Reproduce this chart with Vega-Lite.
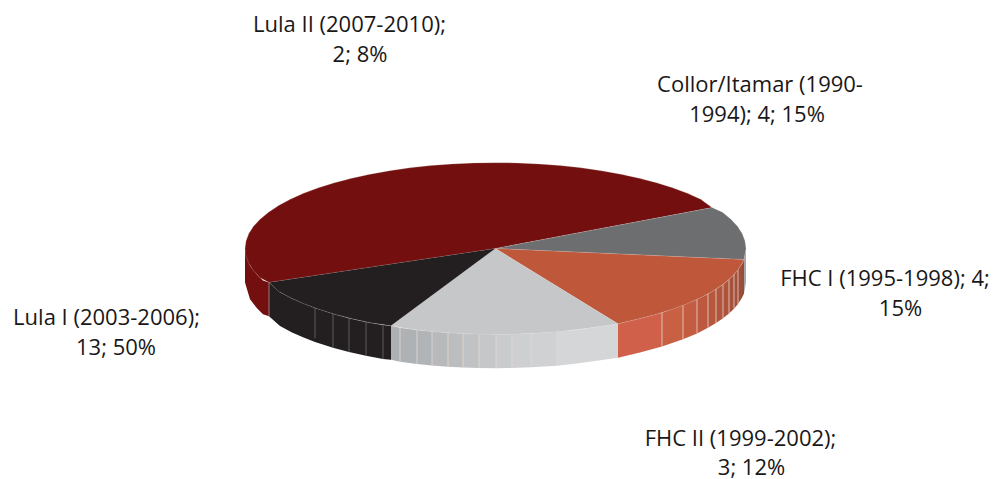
{"$schema":"https://vega.github.io/schema/vega-lite/v6.json","width":993,"height":479,"padding":0,"autosize":{"type":"fit","contains":"padding"},"background":"white","view":{"stroke":null},
"datasets":{
"faces":[
{"s":"Lula I","n":0,"x":0,"y":0},{"s":"Lula I","n":1,"x":-226.5,"y":-34},{"s":"Lula I","n":2,"x":-235.4,"y":-29.4},{"s":"Lula I","n":3,"x":-242,"y":-22.3},{"s":"Lula I","n":4,"x":-246.7,"y":-14.9},{"s":"Lula I","n":5,"x":-249.5,"y":-7.5},{"s":"Lula I","n":6,"x":-250.5,"y":0},{"s":"Lula I","n":7,"x":-249.5,"y":7.5},{"s":"Lula I","n":8,"x":-246.7,"y":14.9},{"s":"Lula I","n":9,"x":-242,"y":22.3},{"s":"Lula I","n":10,"x":-235.4,"y":29.4},{"s":"Lula I","n":11,"x":-227,"y":36.3},{"s":"Lula I","n":12,"x":-216.9,"y":43},{"s":"Lula I","n":13,"x":-205.2,"y":49.3},{"s":"Lula I","n":14,"x":-191.9,"y":55.3},{"s":"Lula I","n":15,"x":-177.1,"y":60.8},{"s":"Lula I","n":16,"x":-161,"y":65.9},{"s":"Lula I","n":17,"x":-143.7,"y":70.4},{"s":"Lula I","n":18,"x":-125.3,"y":74.5},{"s":"Lula I","n":19,"x":-105.9,"y":77.9},{"s":"Lula I","n":20,"x":-85.7,"y":80.8},{"s":"Lula I","n":21,"x":-64.8,"y":83.1},{"s":"Lula I","n":22,"x":-43.5,"y":84.7},{"s":"Lula I","n":23,"x":-21.8,"y":85.7},{"s":"Lula I","n":24,"x":0,"y":86},{"s":"Lula I","n":25,"x":21.8,"y":85.7},{"s":"Lula I","n":26,"x":43.5,"y":84.7},{"s":"Lula I","n":27,"x":64.8,"y":83.1},{"s":"Lula I","n":28,"x":85.7,"y":80.8},{"s":"Lula I","n":29,"x":105.9,"y":77.9},{"s":"Lula I","n":30,"x":125.3,"y":74.5},{"s":"Lula I","n":31,"x":143.7,"y":70.4},{"s":"Lula I","n":32,"x":161,"y":65.9},{"s":"Lula I","n":33,"x":177.1,"y":60.8},{"s":"Lula I","n":34,"x":191.9,"y":55.3},{"s":"Lula I","n":35,"x":205.2,"y":49.3},{"s":"Lula I","n":36,"x":216.5,"y":41},
{"s":"Lula II","n":0,"x":0,"y":0},{"s":"Lula II","n":1,"x":216.5,"y":41},{"s":"Lula II","n":2,"x":227,"y":36.3},{"s":"Lula II","n":3,"x":235.4,"y":29.4},{"s":"Lula II","n":4,"x":242,"y":22.3},{"s":"Lula II","n":5,"x":246.7,"y":14.9},{"s":"Lula II","n":6,"x":249.5,"y":7.5},{"s":"Lula II","n":7,"x":250.5,"y":0},{"s":"Lula II","n":8,"x":248.5,"y":-11},
{"s":"Collor","n":0,"x":0,"y":0},{"s":"Collor","n":1,"x":248.5,"y":-11},{"s":"Collor","n":2,"x":246.7,"y":-14.9},{"s":"Collor","n":3,"x":242,"y":-22.3},{"s":"Collor","n":4,"x":235.4,"y":-29.4},{"s":"Collor","n":5,"x":227,"y":-36.3},{"s":"Collor","n":6,"x":216.9,"y":-43},{"s":"Collor","n":7,"x":205.2,"y":-49.3},{"s":"Collor","n":8,"x":191.9,"y":-55.3},{"s":"Collor","n":9,"x":177.1,"y":-60.8},{"s":"Collor","n":10,"x":161,"y":-65.9},{"s":"Collor","n":11,"x":143.7,"y":-70.4},{"s":"Collor","n":12,"x":122.5,"y":-75.5},
{"s":"FHC I","n":0,"x":0,"y":0},{"s":"FHC I","n":1,"x":122.5,"y":-75.5},{"s":"FHC I","n":2,"x":105.9,"y":-77.9},{"s":"FHC I","n":3,"x":85.7,"y":-80.8},{"s":"FHC I","n":4,"x":64.8,"y":-83.1},{"s":"FHC I","n":5,"x":43.5,"y":-84.7},{"s":"FHC I","n":6,"x":21.8,"y":-85.7},{"s":"FHC I","n":7,"x":0,"y":-86},{"s":"FHC I","n":8,"x":-21.8,"y":-85.7},{"s":"FHC I","n":9,"x":-43.5,"y":-84.7},{"s":"FHC I","n":10,"x":-64.8,"y":-83.1},{"s":"FHC I","n":11,"x":-85.7,"y":-80.8},{"s":"FHC I","n":12,"x":-104.5,"y":-77.5},
{"s":"FHC II","n":0,"x":0,"y":0},{"s":"FHC II","n":1,"x":-104.5,"y":-77.5},{"s":"FHC II","n":2,"x":-125.3,"y":-74.5},{"s":"FHC II","n":3,"x":-143.7,"y":-70.4},{"s":"FHC II","n":4,"x":-161,"y":-65.9},{"s":"FHC II","n":5,"x":-177.1,"y":-60.8},{"s":"FHC II","n":6,"x":-191.9,"y":-55.3},{"s":"FHC II","n":7,"x":-205.2,"y":-49.3},{"s":"FHC II","n":8,"x":-216.9,"y":-43},{"s":"FHC II","n":9,"x":-226.5,"y":-34}
],
"walls":[
{"w":"m","x":-250.5,"t":0,"b":-34},{"w":"m","x":-245.5,"t":-17,"b":-51},{"w":"m","x":-238.5,"t":-26,"b":-60},{"w":"m","x":-232.5,"t":-32,"b":-66},{"w":"m","x":-226.5,"t":-34,"b":-68},
{"w":"k","x":-226.5,"t":-34,"b":-68},{"w":"k","x":-215.5,"t":-43.8,"b":-77.8},{"w":"k","x":-203.5,"t":-50.1,"b":-84.1},{"w":"k","x":-192.5,"t":-55,"b":-89},{"w":"k","x":-180.5,"t":-59.6,"b":-93.6},{"w":"k","x":-162.5,"t":-65.4,"b":-99.4},{"w":"k","x":-146.5,"t":-69.8,"b":-103.8},{"w":"k","x":-129.5,"t":-73.6,"b":-107.6},{"w":"k","x":-112.5,"t":-76.8,"b":-110.8},{"w":"k","x":-104.5,"t":-77.5,"b":-111.5},
{"w":"g01","x":-104.5,"t":-77.5,"b":-111.5},{"w":"g01","x":-95.5,"t":-79.5,"b":-113.5},
{"w":"g02","x":-95.5,"t":-79.5,"b":-113.5},{"w":"g02","x":-78.5,"t":-81.7,"b":-115.7},
{"w":"g03","x":-78.5,"t":-81.7,"b":-115.7},{"w":"g03","x":-63.5,"t":-83.2,"b":-117.2},
{"w":"g04","x":-63.5,"t":-83.2,"b":-117.2},{"w":"g04","x":-47.5,"t":-84.4,"b":-118.4},
{"w":"g05","x":-47.5,"t":-84.4,"b":-118.4},{"w":"g05","x":-32.5,"t":-85.3,"b":-119.3},
{"w":"g06","x":-32.5,"t":-85.3,"b":-119.3},{"w":"g06","x":-16.5,"t":-85.8,"b":-119.8},
{"w":"g07","x":-16.5,"t":-85.8,"b":-119.8},{"w":"g07","x":0.5,"t":-86,"b":-120},
{"w":"g08","x":0.5,"t":-86,"b":-120},{"w":"g08","x":16.5,"t":-85.8,"b":-119.8},
{"w":"g09","x":16.5,"t":-85.8,"b":-119.8},{"w":"g09","x":35.5,"t":-85.1,"b":-119.1},
{"w":"g10","x":35.5,"t":-85.1,"b":-119.1},{"w":"g10","x":61.5,"t":-83.4,"b":-117.4},
{"w":"g11","x":61.5,"t":-83.4,"b":-117.4},{"w":"g11","x":79.5,"t":-81.6,"b":-115.6},{"w":"g11","x":101.5,"t":-78.6,"b":-112.6},{"w":"g11","x":122.5,"t":-75.5,"b":-109.5},
{"w":"o01","x":122.5,"t":-75.5,"b":-109.5},{"w":"o01","x":144.5,"t":-70.2,"b":-104.2},{"w":"o01","x":166.5,"t":-64.3,"b":-98.3},
{"w":"o02","x":166.5,"t":-64.3,"b":-98.3},{"w":"o02","x":187.5,"t":-57,"b":-91},
{"w":"o03","x":187.5,"t":-57,"b":-91},{"w":"o03","x":201.5,"t":-51.1,"b":-85.1},
{"w":"o04","x":201.5,"t":-51.1,"b":-85.1},{"w":"o04","x":212.5,"t":-45.5,"b":-79.5},
{"w":"o05","x":212.5,"t":-45.5,"b":-79.5},{"w":"o05","x":220.5,"t":-40.8,"b":-74.8},
{"w":"o06","x":220.5,"t":-40.8,"b":-74.8},{"w":"o06","x":227.5,"t":-36,"b":-70},
{"w":"o07","x":227.5,"t":-36,"b":-70},{"w":"o07","x":233.5,"t":-31.1,"b":-65.1},
{"w":"o08","x":233.5,"t":-31.1,"b":-65.1},{"w":"o08","x":238.5,"t":-26.3,"b":-60.3},
{"w":"o09","x":238.5,"t":-26.3,"b":-60.3},{"w":"o09","x":242.5,"t":-21.6,"b":-55.6},
{"w":"o10","x":242.5,"t":-21.6,"b":-55.6},{"w":"o10","x":246.5,"t":-15.3,"b":-49.3},
{"w":"o11","x":246.5,"t":-15.3,"b":-49.3},{"w":"o11","x":248.5,"t":-11,"b":-45},
{"w":"r","x":248.5,"t":-11,"b":-45},{"w":"r","x":250.5,"t":0,"b":-34}
],
"seams":[
{"x":-180.5,"t":-59.6,"b":-90,"k":"dark"},{"x":-162.5,"t":-65.4,"b":-99.4,"k":"dark"},{"x":-146.5,"t":-69.8,"b":-103.8,"k":"dark"},{"x":-129.5,"t":-73.6,"b":-107.6,"k":"dark"},{"x":-112.5,"t":-76.8,"b":-110.8,"k":"dark"},{"x":-226.5,"t":-34,"b":-68,"k":"edge"},
{"x":-95.5,"t":-79.5,"b":-113.5,"k":"light"},{"x":-78.5,"t":-81.7,"b":-115.7,"k":"light"},{"x":-63.5,"t":-83.2,"b":-117.2,"k":"light"},{"x":-47.5,"t":-84.4,"b":-118.4,"k":"light"},{"x":-32.5,"t":-85.3,"b":-119.3,"k":"light"},{"x":-16.5,"t":-85.8,"b":-119.8,"k":"light"},{"x":0.5,"t":-86,"b":-120,"k":"light"},{"x":16.5,"t":-85.8,"b":-119.8,"k":"light"},{"x":35.5,"t":-85.1,"b":-119.1,"k":"light"},{"x":61.5,"t":-83.4,"b":-117.4,"k":"light"},
{"x":166.5,"t":-64.3,"b":-98.3,"k":"light"},{"x":187.5,"t":-57,"b":-91,"k":"light"},{"x":201.5,"t":-51.1,"b":-85.1,"k":"light"},{"x":212.5,"t":-45.5,"b":-79.5,"k":"light"},{"x":220.5,"t":-40.8,"b":-74.8,"k":"light"},{"x":227.5,"t":-36,"b":-70,"k":"light"},{"x":233.5,"t":-31.1,"b":-65.1,"k":"light"},{"x":238.5,"t":-26.3,"b":-60.3,"k":"light"},{"x":242.5,"t":-21.6,"b":-55.6,"k":"light"}
],
"labels":[
{"text":"Lula II (2007-2010);","x":-146,"y":224},{"text":"2; 8%","x":-135.5,"y":194},
{"text":"Collor/Itamar (1990-","x":264.5,"y":164},{"text":"1994); 4; 15%","x":261.5,"y":134},
{"text":"FHC I (1995-1998); 4;","x":389.5,"y":-31},{"text":"15%","x":405,"y":-61},
{"text":"Lula I (2003-2006);","x":-389,"y":-70},{"text":"13; 50%","x":-379.5,"y":-100},
{"text":"FHC II (1999-2002);","x":245,"y":-191},{"text":"3; 12%","x":256,"y":-220}
]},
"layer":[
{"data":{"name":"walls"},"mark":{"type":"area","interpolate":"linear"},
 "encoding":{"x":{"field":"x","type":"quantitative","scale":{"domain":[-495.5,497.5],"nice":false,"zero":false},"axis":null},
 "y":{"field":"t","type":"quantitative","stack":null,"scale":{"domain":[-230,249],"nice":false,"zero":false},"axis":null},"y2":{"field":"b"},
 "color":{"field":"w","type":"nominal","legend":null,"scale":{"domain":["m","k","g01","g02","g03","g04","g05","g06","g07","g08","g09","g10","g11","o01","o02","o03","o04","o05","o06","o07","o08","o09","o10","o11","r"],"range":["#73100f","#231f20","#aeb1b3","#aeb2b4","#b1b4b6","#b7b9bb","#bcbdbf","#c1c2c4","#c6c7c9","#cacbcd","#cecfd1","#d0d1d3","#d5d6d8","#d0604a","#c95f43","#c45c42","#bd593f","#b7573d","#b2553c","#ad533b","#a8513a","#a34f39","#9e4d38","#994b37","#a6a7a9"]}}}},
{"data":{"name":"seams"},"mark":{"type":"rule","strokeWidth":0.8},
 "encoding":{"x":{"field":"x","type":"quantitative"},"y":{"field":"t","type":"quantitative"},"y2":{"field":"b"},
 "color":{"field":"k","type":"nominal","legend":null,"scale":{"domain":["dark","edge","light"],"range":["#6b6a6b","#a09a9a","#e6d8d2"]}}}},
{"data":{"name":"faces"},"mark":{"type":"line","stroke":"#e8e0dc","strokeOpacity":0.3,"strokeWidth":0.7},
 "encoding":{"x":{"field":"x","type":"quantitative"},"y":{"field":"y","type":"quantitative"},"order":{"field":"n","type":"quantitative"},"detail":{"field":"s"},
 "fill":{"field":"s","type":"nominal","legend":null,"scale":{"domain":["Lula I","Lula II","Collor","FHC I","FHC II"],"range":["#73100f","#6d6e70","#bf573b","#c6c7c9","#231f20"]}}}},
{"data":{"name":"labels"},"mark":{"type":"text","font":"Open Sans","fontSize":22,"align":"center","baseline":"middle","color":"#1a1718"},
 "encoding":{"x":{"field":"x","type":"quantitative"},"y":{"field":"y","type":"quantitative"},"text":{"field":"text"}}}
],
"resolve":{"scale":{"color":"independent"}}}
